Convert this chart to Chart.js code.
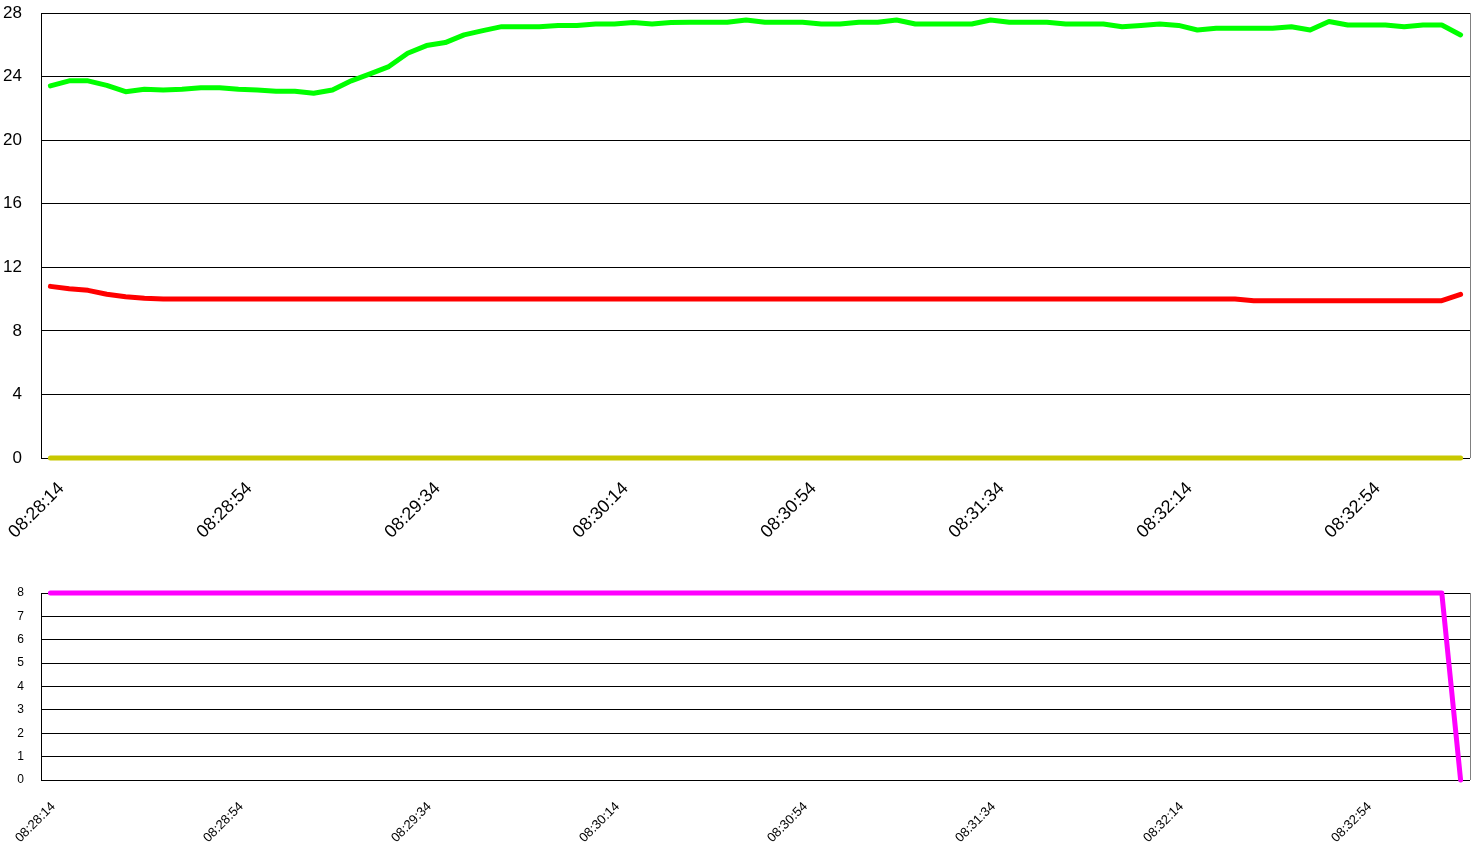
<!DOCTYPE html>
<html>
<head>
<meta charset="utf-8">
<script src="https://cdn.jsdelivr.net/npm/chart.js@4"></script>
<style>
  html, body { margin: 0; padding: 0; background: #fff; }
  body { width: 1481px; height: 844px; position: relative; overflow: hidden; }
  .box { position: absolute; left: 0; }
  #top-box { top: 0; width: 1481px; height: 560px; }
  #bottom-box { top: 560px; width: 1481px; height: 284px; }
</style>
</head>
<body>
<div class="box" id="top-box"><canvas id="top-chart" width="1481" height="560"></canvas></div>
<div class="box" id="bottom-box"><canvas id="bottom-chart" width="1481" height="284"></canvas></div>
<script>
const times = [
  '08:28:14', '08:28:18', '08:28:22', '08:28:26', '08:28:30', '08:28:34', '08:28:38', '08:28:42', '08:28:46', '08:28:50',
  '08:28:54', '08:28:58', '08:29:02', '08:29:06', '08:29:10', '08:29:14', '08:29:18', '08:29:22', '08:29:26', '08:29:30',
  '08:29:34', '08:29:38', '08:29:42', '08:29:46', '08:29:50', '08:29:54', '08:29:58', '08:30:02', '08:30:06', '08:30:10',
  '08:30:14', '08:30:18', '08:30:22', '08:30:26', '08:30:30', '08:30:34', '08:30:38', '08:30:42', '08:30:46', '08:30:50',
  '08:30:54', '08:30:58', '08:31:02', '08:31:06', '08:31:10', '08:31:14', '08:31:18', '08:31:22', '08:31:26', '08:31:30',
  '08:31:34', '08:31:38', '08:31:42', '08:31:46', '08:31:50', '08:31:54', '08:31:58', '08:32:02', '08:32:06', '08:32:10',
  '08:32:14', '08:32:18', '08:32:22', '08:32:26', '08:32:30', '08:32:34', '08:32:38', '08:32:42', '08:32:46', '08:32:50',
  '08:32:54', '08:32:58', '08:33:02', '08:33:06', '08:33:10', '08:33:14'
];

// labels shown under the x axis
const shownTimes = ['08:28:14', '08:28:54', '08:29:34', '08:30:14', '08:30:54', '08:31:34', '08:32:14', '08:32:54'];

const greenValues = [
  23.41, 23.73, 23.73, 23.45, 23.05, 23.2, 23.15, 23.2, 23.3, 23.3,
  23.2, 23.15, 23.08, 23.08, 22.95, 23.16, 23.73, 24.17, 24.63, 25.47,
  25.95, 26.14, 26.62, 26.89, 27.14, 27.14, 27.14, 27.22, 27.22, 27.31,
  27.31, 27.4, 27.31, 27.4, 27.42, 27.42, 27.42, 27.56, 27.42, 27.42,
  27.42, 27.31, 27.31, 27.42, 27.42, 27.56, 27.31, 27.31, 27.31, 27.31,
  27.56, 27.42, 27.42, 27.42, 27.31, 27.31, 27.31, 27.14, 27.22, 27.31,
  27.22, 26.93, 27.04, 27.04, 27.04, 27.04, 27.14, 26.93, 27.46, 27.25,
  27.25, 27.25, 27.14, 27.25, 27.25, 26.62
];

const redValues = [
  10.8, 10.65, 10.55, 10.3, 10.15, 10.05, 10, 10, 10, 10,
  10, 10, 10, 10, 10, 10, 10, 10, 10, 10,
  10, 10, 10, 10, 10, 10, 10, 10, 10, 10,
  10, 10, 10, 10, 10, 10, 10, 10, 10, 10,
  10, 10, 10, 10, 10, 10, 10, 10, 10, 10,
  10, 10, 10, 10, 10, 10, 10, 10, 10, 10,
  10, 10, 10, 10, 9.9, 9.9, 9.9, 9.9, 9.9, 9.9,
  9.9, 9.9, 9.9, 9.9, 9.9, 10.3
];

const yellowValues = [
  0, 0, 0, 0, 0, 0, 0, 0, 0, 0,
  0, 0, 0, 0, 0, 0, 0, 0, 0, 0,
  0, 0, 0, 0, 0, 0, 0, 0, 0, 0,
  0, 0, 0, 0, 0, 0, 0, 0, 0, 0,
  0, 0, 0, 0, 0, 0, 0, 0, 0, 0,
  0, 0, 0, 0, 0, 0, 0, 0, 0, 0,
  0, 0, 0, 0, 0, 0, 0, 0, 0, 0,
  0, 0, 0, 0, 0, 0
];

const magentaValues = [
  8, 8, 8, 8, 8, 8, 8, 8, 8, 8,
  8, 8, 8, 8, 8, 8, 8, 8, 8, 8,
  8, 8, 8, 8, 8, 8, 8, 8, 8, 8,
  8, 8, 8, 8, 8, 8, 8, 8, 8, 8,
  8, 8, 8, 8, 8, 8, 8, 8, 8, 8,
  8, 8, 8, 8, 8, 8, 8, 8, 8, 8,
  8, 8, 8, 8, 8, 8, 8, 8, 8, 8,
  8, 8, 8, 8, 8, 0
];

const topTicks = { min: 0, max: 28, step: 4 };
const bottomTicks = { min: 0, max: 8, step: 1 };

const FONT = '"Liberation Sans", Arial, sans-serif';

// gray line on the right edge of the plot
const rightEdge = {
    id: 'rightEdge',
    afterDraw(chart) {
        const a = chart.chartArea;
        const c = chart.ctx;
        c.save();
        c.strokeStyle = '#808080';
        c.lineWidth = 1;
        c.beginPath();
        c.moveTo(Math.round(a.right) + 0.5, a.top);
        c.lineTo(Math.round(a.right) + 0.5, a.bottom);
        c.stroke();
        c.restore();
    }
};

function line(data, color, width) {
    return {
        data: data,
        borderColor: color,
        borderWidth: width,
        pointRadius: 0,
        tension: 0,
        fill: false,
        clip: false,
        borderCapStyle: 'round',
        borderJoinStyle: 'round'
    };
}

// keep label overflow from pushing the plot area around
function noPad(s) {
    s.paddingLeft = 0;
    s.paddingRight = 0;
    s.paddingTop = 0;
    s.paddingBottom = 0;
}

function makeOptions(ticks, o) {
    return {
        responsive: false,
        animation: false,
        layout: { padding: { top: o.padTop, right: 11, left: 0, bottom: 0 } },
        plugins: { legend: { display: false }, tooltip: { enabled: false } },
        scales: {
            x: {
                type: 'category',
                offset: true,
                grid: { display: false, drawTicks: false },
                border: { display: false },
                ticks: {
                    autoSkip: false,
                    minRotation: 45,
                    maxRotation: 45,
                    padding: o.xPad,
                    labelOffset: o.xShift,
                    color: '#000',
                    font: { family: FONT, size: o.xFont },
                    callback: function(value) {
                        const t = this.getLabelForValue(value);
                        return shownTimes.includes(t) ? t : '';
                    }
                },
                afterFit: s => { s.height = o.xHeight; noPad(s); }
            },
            y: {
                min: ticks.min,
                max: ticks.max,
                grid: { color: '#000', lineWidth: 1, drawTicks: false },
                border: { color: '#000', width: 1 },
                ticks: {
                    stepSize: ticks.step,
                    padding: o.yPad,
                    color: '#000',
                    font: { family: FONT, size: o.yFont }
                },
                afterFit: s => { s.width = 41; noPad(s); }
            }
        }
    };
}

new Chart(document.getElementById('top-chart'), {
    type: 'line',
    data: {
        labels: times,
        datasets: [
            line(yellowValues, '#c8c800', 5),
            line(greenValues, '#00ff00', 5),
            line(redValues, '#ff0000', 5)
        ]
    },
    options: makeOptions(topTicks, { yFont: 17, xFont: 18, xHeight: 102, padTop: 13, yPad: 19, xPad: 20, xShift: 11 }),
    plugins: [rightEdge]
});

new Chart(document.getElementById('bottom-chart'), {
    type: 'line',
    data: {
        labels: times,
        datasets: [line(magentaValues, '#ff00ff', 5)]
    },
    options: makeOptions(bottomTicks, { yFont: 12, xFont: 13, xHeight: 64, padTop: 33, yPad: 17, xPad: 19, xShift: 3 }),
    plugins: [rightEdge]
});
</script>
</body>
</html>
